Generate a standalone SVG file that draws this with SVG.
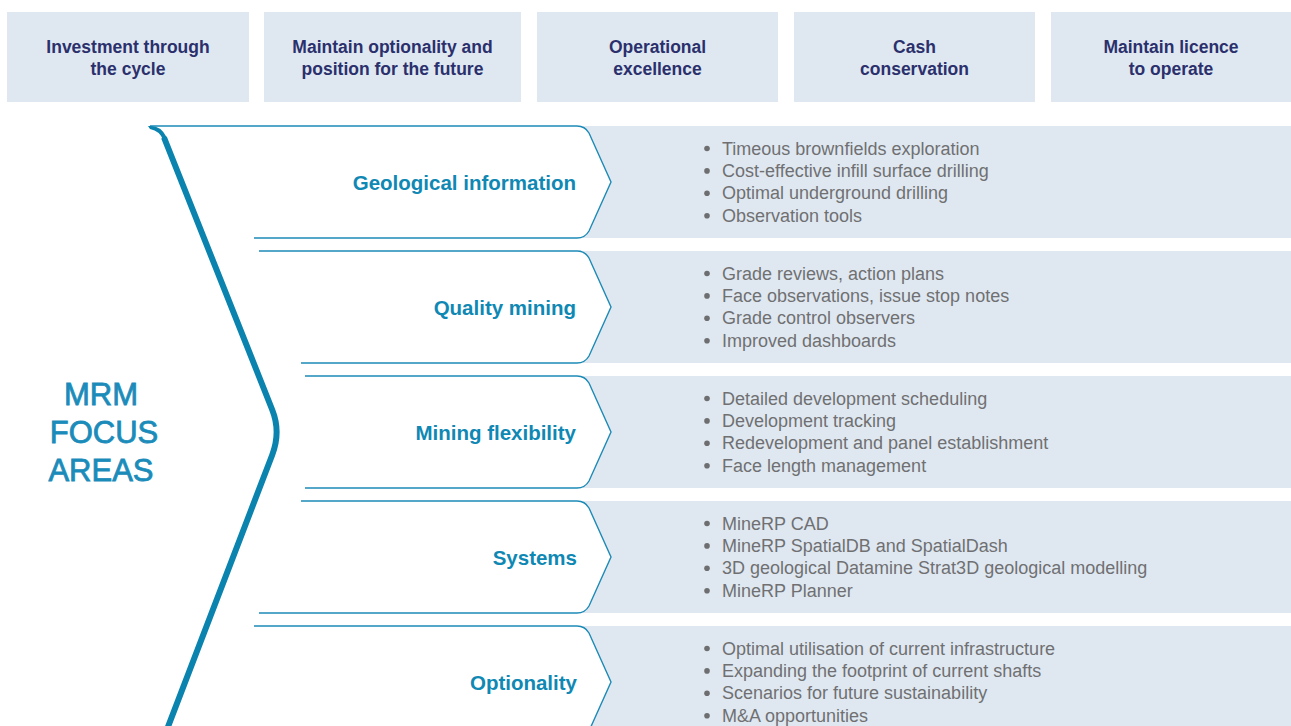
<svg xmlns="http://www.w3.org/2000/svg" width="1291" height="726" viewBox="0 0 1291 726">
  <style>
    .hdr-box { fill: #dfe8f1; }
    .hdr-txt { font-family: "Liberation Sans", Arial, sans-serif; font-size: 17.5px; font-weight: bold; fill: #2b306c; text-anchor: middle; }
    .band { fill: #dfe8f1; }
    .chev { fill: #ffffff; stroke: #1c8ab6; stroke-width: 1.4; }
    .chev-txt { font-family: "Liberation Sans", Arial, sans-serif; font-size: 20.5px; font-weight: bold; fill: #0f88b4; text-anchor: end; }
    .item { font-family: "Liberation Sans", Arial, sans-serif; font-size: 18px; fill: #707072; }
    .dot { fill: #6e6e70; }
    .title { font-family: "Liberation Sans", Arial, sans-serif; font-size: 31px; fill: #1b8cba; stroke: #1b8cba; stroke-width: 0.8; text-anchor: middle; }
    .spine { fill: none; stroke: #0a83ae; stroke-width: 6; stroke-linejoin: round; }
  </style>
  <defs>
    <linearGradient id="fade" x1="0" y1="0" x2="1" y2="0">
      <stop offset="0" stop-color="#1c8ab6" stop-opacity="0.25"/>
      <stop offset="1" stop-color="#1c8ab6" stop-opacity="0.9"/>
    </linearGradient>
  </defs>
  <rect width="1291" height="726" fill="#ffffff"/>

  <!-- strategic pillars across the top -->
  <g id="pillar-investment">
    <rect class="hdr-box" x="7" y="12" width="242" height="90"/>
    <text class="hdr-txt" x="128" y="53">Investment through</text>
    <text class="hdr-txt" x="128" y="75">the cycle</text>
  </g>
  <g id="pillar-optionality">
    <rect class="hdr-box" x="264" y="12" width="257" height="90"/>
    <text class="hdr-txt" x="392.5" y="53">Maintain optionality and</text>
    <text class="hdr-txt" x="392.5" y="75">position for the future</text>
  </g>
  <g id="pillar-operational">
    <rect class="hdr-box" x="537" y="12" width="241" height="90"/>
    <text class="hdr-txt" x="657.5" y="53">Operational</text>
    <text class="hdr-txt" x="657.5" y="75">excellence</text>
  </g>
  <g id="pillar-cash">
    <rect class="hdr-box" x="794" y="12" width="241" height="90"/>
    <text class="hdr-txt" x="914.5" y="53">Cash</text>
    <text class="hdr-txt" x="914.5" y="75">conservation</text>
  </g>
  <g id="pillar-licence">
    <rect class="hdr-box" x="1051" y="12" width="240" height="90"/>
    <text class="hdr-txt" x="1171" y="53">Maintain licence</text>
    <text class="hdr-txt" x="1171" y="75">to operate</text>
  </g>

  <!-- focus area 1 -->
  <g id="area-geological">
    <rect class="band" x="583" y="126" width="708" height="112"/>
    <line x1="15" y1="126" x2="150" y2="126" stroke="url(#fade)" stroke-width="1.4"/>
    <path class="chev" d="M 150,126 L 577,126 Q 585,126 589,133 L 611,182 L 589,231 Q 585,238 577,238 L 254,238"/>
    <text class="chev-txt" x="576" y="190">Geological information</text>
    <g class="item">
      <text x="722" y="154.5">Timeous brownfields exploration</text>
      <text x="722" y="176.9">Cost-effective infill surface drilling</text>
      <text x="722" y="199.3">Optimal underground drilling</text>
      <text x="722" y="221.7">Observation tools</text>
    </g>
    <circle class="dot" cx="707" cy="148.5" r="2.8"/>
    <circle class="dot" cx="707" cy="170.9" r="2.8"/>
    <circle class="dot" cx="707" cy="193.3" r="2.8"/>
    <circle class="dot" cx="707" cy="215.7" r="2.8"/>
  </g>

  <!-- focus area 2 -->
  <g id="area-quality">
    <rect class="band" x="583" y="251" width="708" height="112"/>
    <path class="chev" d="M 259,251 L 577,251 Q 585,251 589,258 L 611,307 L 589,356 Q 585,363 577,363 L 301,363"/>
    <text class="chev-txt" x="576" y="315">Quality mining</text>
    <g class="item">
      <text x="722" y="279.5">Grade reviews, action plans</text>
      <text x="722" y="301.9">Face observations, issue stop notes</text>
      <text x="722" y="324.3">Grade control observers</text>
      <text x="722" y="346.7">Improved dashboards</text>
    </g>
    <circle class="dot" cx="707" cy="273.5" r="2.8"/>
    <circle class="dot" cx="707" cy="295.9" r="2.8"/>
    <circle class="dot" cx="707" cy="318.3" r="2.8"/>
    <circle class="dot" cx="707" cy="340.7" r="2.8"/>
  </g>

  <!-- focus area 3 -->
  <g id="area-flexibility">
    <rect class="band" x="583" y="376" width="708" height="112"/>
    <path class="chev" d="M 305,376 L 577,376 Q 585,376 589,383 L 611,432 L 589,481 Q 585,488 577,488 L 305,488"/>
    <text class="chev-txt" x="576" y="440">Mining flexibility</text>
    <g class="item">
      <text x="722" y="404.5">Detailed development scheduling</text>
      <text x="722" y="426.9">Development tracking</text>
      <text x="722" y="449.3">Redevelopment and panel establishment</text>
      <text x="722" y="471.7">Face length management</text>
    </g>
    <circle class="dot" cx="707" cy="398.5" r="2.8"/>
    <circle class="dot" cx="707" cy="420.9" r="2.8"/>
    <circle class="dot" cx="707" cy="443.3" r="2.8"/>
    <circle class="dot" cx="707" cy="465.7" r="2.8"/>
  </g>

  <!-- focus area 4 -->
  <g id="area-systems">
    <rect class="band" x="583" y="501" width="708" height="112"/>
    <path class="chev" d="M 301,501 L 577,501 Q 585,501 589,508 L 611,557 L 589,606 Q 585,613 577,613 L 259,613"/>
    <text class="chev-txt" x="577" y="565">Systems</text>
    <g class="item">
      <text x="722" y="529.5">MineRP CAD</text>
      <text x="722" y="551.9">MineRP SpatialDB and SpatialDash</text>
      <text x="722" y="574.3">3D geological Datamine Strat3D geological modelling</text>
      <text x="722" y="596.7">MineRP Planner</text>
    </g>
    <circle class="dot" cx="707" cy="523.5" r="2.8"/>
    <circle class="dot" cx="707" cy="545.9" r="2.8"/>
    <circle class="dot" cx="707" cy="568.3" r="2.8"/>
    <circle class="dot" cx="707" cy="590.7" r="2.8"/>
  </g>

  <!-- focus area 5 (runs past the lower edge) -->
  <g id="area-optionality">
    <rect class="band" x="583" y="626" width="708" height="112"/>
    <path class="chev" d="M 254,626 L 577,626 Q 585,626 589,633 L 611,682 L 589,731 Q 585,738 577,738 L 254,738"/>
    <text class="chev-txt" x="577" y="690">Optionality</text>
    <g class="item">
      <text x="722" y="654.5">Optimal utilisation of current infrastructure</text>
      <text x="722" y="676.9">Expanding the footprint of current shafts</text>
      <text x="722" y="699.3">Scenarios for future sustainability</text>
      <text x="722" y="721.7">M&amp;A opportunities</text>
    </g>
    <circle class="dot" cx="707" cy="648.5" r="2.8"/>
    <circle class="dot" cx="707" cy="670.9" r="2.8"/>
    <circle class="dot" cx="707" cy="693.3" r="2.8"/>
    <circle class="dot" cx="707" cy="715.7" r="2.8"/>
  </g>

  <!-- the bracket that gathers all focus areas -->
  <g id="connectors">
    <path d="M 148,126 L 151,126 Q 161,126 166.5,137 L 163,140 Q 160,131 150,129 Z" fill="#0a83ae"/>
    <path class="spine" d="M 164,137.5 L 272.3,410 Q 281,432 272.2,455 L 166,732"/>
  </g>

  <g id="title">
    <text class="title" x="101" y="405">MRM</text>
    <text class="title" x="104" y="443">FOCUS</text>
    <text class="title" x="101" y="481">AREAS</text>
  </g>
</svg>
